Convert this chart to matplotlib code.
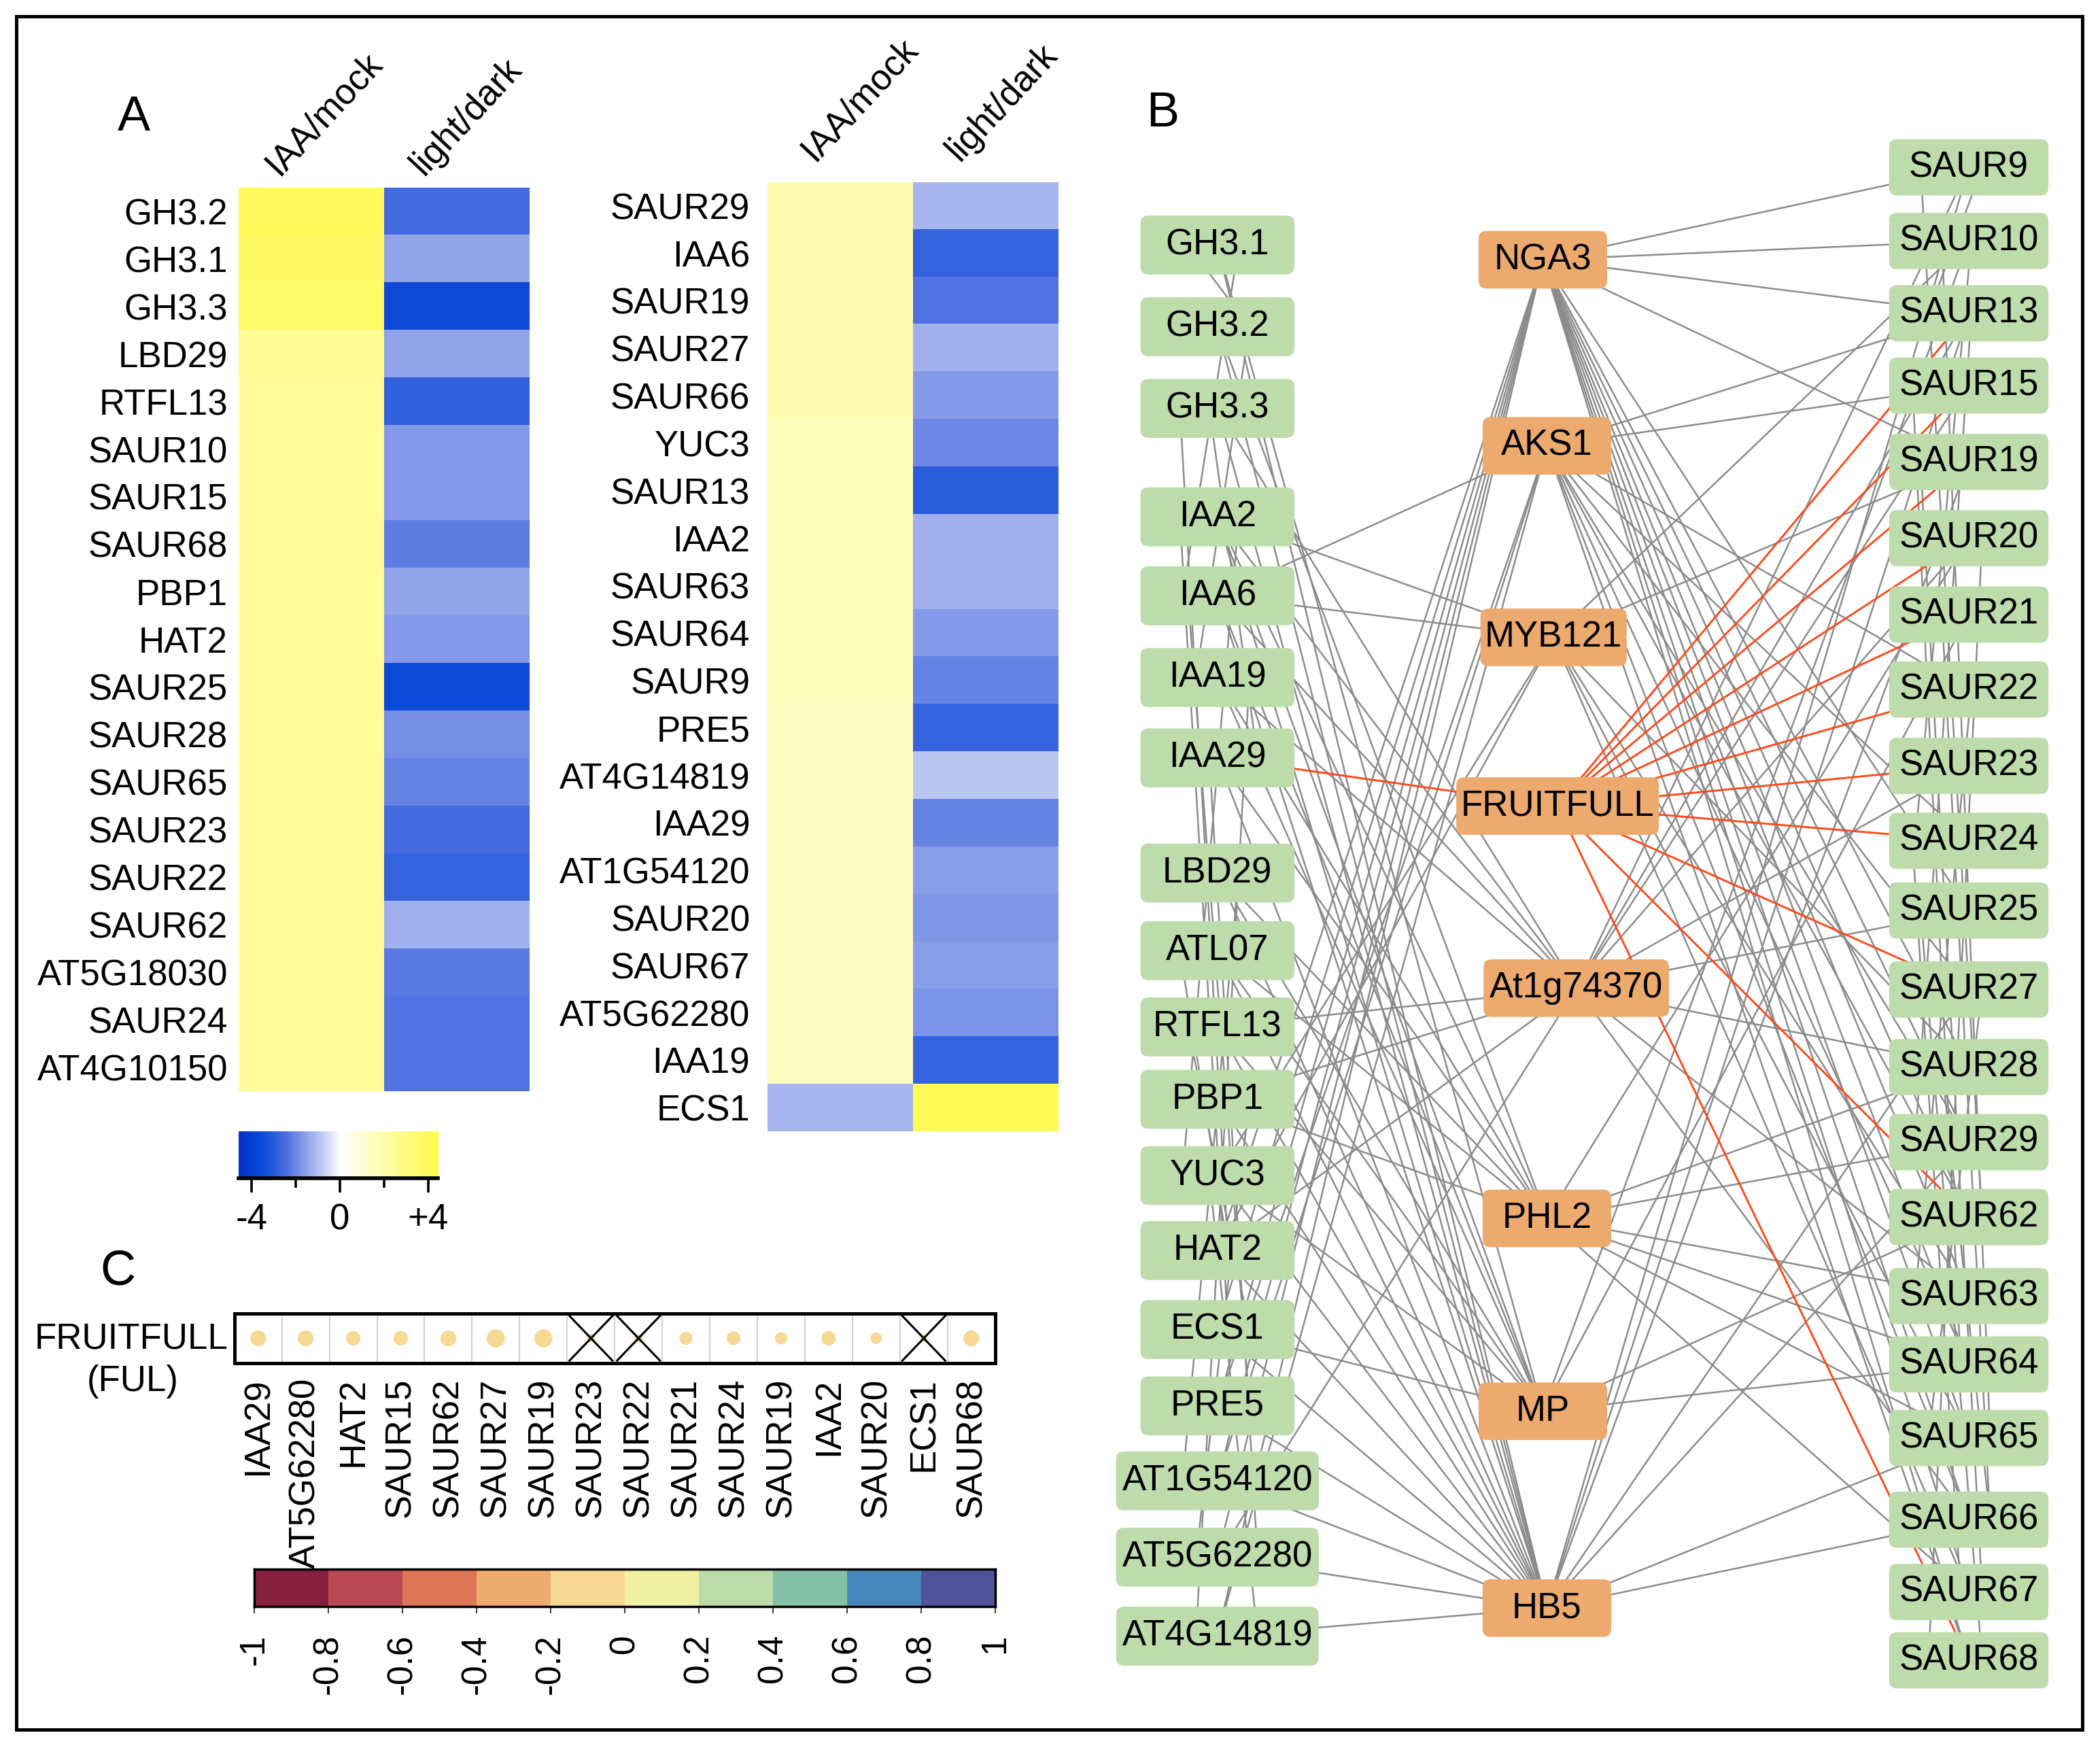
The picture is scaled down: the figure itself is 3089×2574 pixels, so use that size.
import numpy as np
import matplotlib
matplotlib.use('Agg')
import matplotlib.pyplot as plt
from matplotlib.colors import LinearSegmentedColormap, ListedColormap, BoundaryNorm
from matplotlib.patches import FancyBboxPatch, Rectangle, Ellipse
from matplotlib.collections import LineCollection
from matplotlib.textpath import TextPath
from matplotlib.font_manager import FontProperties

plt.rcParams['font.family'] = ['Liberation Sans', 'DejaVu Sans']

##############################
########### Data #############
##############################

# panel A, left heatmap (log2 fold changes)
left_genes = ['GH3.2', 'GH3.1', 'GH3.3', 'LBD29', 'RTFL13', 'SAUR10', 'SAUR15', 'SAUR68',
              'PBP1', 'HAT2', 'SAUR25', 'SAUR28', 'SAUR65', 'SAUR23', 'SAUR22', 'SAUR62',
              'AT5G18030', 'SAUR24', 'AT4G10150']
left_iaa = [3.9, 3.7, 3.6, 2.5, 2.4, 2.4, 2.4, 2.4, 2.4, 2.4, 2.4, 2.4, 2.4, 2.4, 2.4, 2.4,
            2.4, 2.4, 2.4]
left_light = [-2.6, -1.5, -3.6, -1.5, -2.9, -1.7, -1.7, -2.2, -1.5, -1.7, -3.6, -1.9, -2.1,
              -2.6, -2.8, -1.3, -2.3, -2.4, -2.4]

# panel A, right heatmap
right_genes = ['SAUR29', 'IAA6', 'SAUR19', 'SAUR27', 'SAUR66', 'YUC3', 'SAUR13', 'IAA2',
               'SAUR63', 'SAUR64', 'SAUR9', 'PRE5', 'AT4G14819', 'IAA29', 'AT1G54120',
               'SAUR20', 'SAUR67', 'AT5G62280', 'IAA19', 'ECS1']
right_iaa = [1.85, 1.85, 1.85, 1.85, 1.85, 1.6, 1.6, 1.6, 1.6, 1.6, 1.6, 1.4, 1.4, 1.4, 1.4,
             1.4, 1.4, 1.4, 1.4, -1.2]
right_light = [-1.2, -2.8, -2.4, -1.3, -1.7, -2.0, -3.0, -1.3, -1.3, -1.7, -2.1, -2.8, -0.9,
               -2.1, -1.6, -1.75, -1.6, -1.8, -2.8, 4.0]

# panel C, FRUITFULL correlations
ful_targets = ['IAA29', 'AT5G62280', 'HAT2', 'SAUR15', 'SAUR62', 'SAUR27', 'SAUR19', 'SAUR23',
               'SAUR22', 'SAUR21', 'SAUR24', 'SAUR19', 'IAA2', 'SAUR20', 'ECS1', 'SAUR68']
ful_corr = [-0.12, -0.12, -0.10, -0.10, -0.12, -0.16, -0.16, -0.03, -0.03, -0.08, -0.09,
            -0.07, -0.10, -0.06, -0.02, -0.12]
ful_signif = [True, True, True, True, True, True, True, False, False, True, True, True, True,
              True, False, True]
corr_bins = np.linspace(-1, 1, 11)
corr_colors = ['#87203F', '#B94A53', '#DD7656', '#EDAB70', '#F8D994', '#F1F1A4', '#BDDBA9',
               '#85C1A8', '#4788BC', '#4F539A']

# panel B, network
left_nodes = ['GH3.1', 'GH3.2', 'GH3.3', 'IAA2', 'IAA6', 'IAA19', 'IAA29', 'LBD29', 'ATL07',
              'RTFL13', 'PBP1', 'YUC3', 'HAT2', 'ECS1', 'PRE5', 'AT1G54120', 'AT5G62280',
              'AT4G14819']
tf_nodes = ['NGA3', 'AKS1', 'MYB121', 'FRUITFULL', 'At1g74370', 'PHL2', 'MP', 'HB5']
right_nodes = ['SAUR9', 'SAUR10', 'SAUR13', 'SAUR15', 'SAUR19', 'SAUR20', 'SAUR21', 'SAUR22',
               'SAUR23', 'SAUR24', 'SAUR25', 'SAUR27', 'SAUR28', 'SAUR29', 'SAUR62', 'SAUR63',
               'SAUR64', 'SAUR65', 'SAUR66', 'SAUR67', 'SAUR68']

hub_edges = {
    'NGA3': ['SAUR9', 'SAUR10', 'SAUR13', 'SAUR19', 'SAUR25', 'SAUR28', 'SAUR29', 'SAUR62',
             'SAUR63', 'SAUR64', 'SAUR65', 'SAUR66', 'SAUR67', 'SAUR68', 'ECS1', 'PRE5',
             'AT1G54120', 'AT5G62280', 'AT4G14819', 'HAT2'],
    'AKS1': ['SAUR13', 'SAUR15', 'SAUR22', 'SAUR24', 'SAUR27', 'SAUR29', 'SAUR62', 'SAUR64',
             'SAUR66', 'SAUR68', 'IAA6', 'PRE5', 'AT1G54120', 'AT4G14819'],
    'MYB121': ['SAUR10', 'SAUR19', 'SAUR28', 'SAUR63', 'SAUR65', 'SAUR67', 'IAA6', 'IAA2',
               'YUC3', 'HAT2'],
    'At1g74370': ['SAUR9', 'SAUR13', 'SAUR15', 'SAUR20', 'SAUR23', 'SAUR25', 'SAUR28', 'SAUR63',
                  'SAUR66', 'RTFL13', 'IAA2', 'IAA19', 'IAA6', 'GH3.3', 'PBP1', 'HAT2',
                  'AT5G62280'],
    'PHL2': ['SAUR20', 'SAUR28', 'SAUR29', 'SAUR63', 'SAUR64', 'SAUR65', 'SAUR67', 'PBP1',
             'IAA2', 'IAA19', 'IAA29', 'LBD29', 'ATL07', 'GH3.2'],
    'MP': ['SAUR10', 'SAUR21', 'SAUR62', 'SAUR64', 'ECS1', 'IAA2', 'IAA6', 'IAA19', 'LBD29',
           'ATL07', 'RTFL13', 'YUC3', 'GH3.1'],
    'HB5': ['SAUR9', 'SAUR13', 'SAUR19', 'SAUR27', 'SAUR29', 'SAUR65', 'SAUR66', 'GH3.1',
            'GH3.2', 'GH3.3', 'IAA2', 'IAA6', 'IAA29', 'LBD29', 'ATL07', 'RTFL13', 'PBP1',
            'YUC3', 'HAT2', 'ECS1', 'PRE5', 'AT1G54120', 'AT5G62280', 'AT4G14819'],
}
ful_edges = ['IAA29', 'SAUR13', 'SAUR15', 'SAUR19', 'SAUR20', 'SAUR21', 'SAUR22', 'SAUR23',
             'SAUR24', 'SAUR27', 'SAUR62', 'SAUR68']
left_pairs = [('GH3.1', 'GH3.2'), ('GH3.2', 'IAA19'), ('GH3.3', 'IAA29'), ('GH3.1', 'IAA6'),
              ('IAA2', 'ECS1'), ('IAA6', 'PRE5'), ('IAA19', 'AT4G14819'), ('IAA29', 'AT5G62280'),
              ('LBD29', 'AT1G54120'), ('ATL07', 'HAT2'), ('RTFL13', 'ECS1'),
              ('PBP1', 'AT5G62280'), ('YUC3', 'AT4G14819'), ('IAA2', 'YUC3'), ('GH3.3', 'HAT2')]
right_pairs = [('SAUR9', 'SAUR62'), ('SAUR9', 'SAUR13'), ('SAUR10', 'SAUR65'),
               ('SAUR13', 'SAUR29'), ('SAUR15', 'SAUR64'), ('SAUR19', 'SAUR67'),
               ('SAUR20', 'SAUR68'), ('SAUR21', 'SAUR66'), ('SAUR22', 'SAUR63'),
               ('SAUR24', 'SAUR67'), ('SAUR25', 'SAUR68'), ('SAUR27', 'SAUR65'),
               ('SAUR28', 'SAUR66'), ('SAUR10', 'SAUR24')]

##############################
########## Layout ############
##############################
W, H = 1568, 1307   # working canvas units (scaled to the 3089x2574 output)
FS = 38
PX2PT = 1.97 * 72 / 100

left_x = 909
left_y = [183, 244, 305, 386, 445, 506, 566, 652, 710, 767, 821, 878, 934, 993, 1050, 1106,
          1163, 1222]
tf_x = [1152, 1155, 1160, 1163, 1177, 1155, 1152, 1155]
tf_y = [194, 333, 476, 602, 738, 910, 1054, 1201]
right_x = 1470
right_y = [125, 180, 234, 288, 345, 402, 459, 515, 572, 628, 680, 739, 797, 853, 909, 968,
           1019, 1074, 1135, 1189, 1240]

expr_lo, expr_hi = -4.6, 4.45
expr_nodes = [(-4.6, '#0630CC'), (-3.5, '#0C4CD8'), (-2.5, '#4A6EE0'), (-1.5, '#92A5EA'),
              (-0.7, '#C9D2F5'), (0.0, '#FFFFFF'), (4.45, '#FFFA45')]
expr_cmap = LinearSegmentedColormap.from_list(
    'expr', [((v - expr_lo) / (expr_hi - expr_lo), c) for v, c in expr_nodes])

fig = plt.figure(figsize=(30.89, 25.74), dpi=100)


def add_ax(x0, y0, x1, y1):
    return fig.add_axes([x0 / W, 1 - y1 / H, (x1 - x0) / W, (y1 - y0) / H])


ov = fig.add_axes([0, 0, 1, 1])
ov.set_xlim(0, W)
ov.set_ylim(H, 0)
ov.axis('off')

##############################
####### Panel A heatmaps #####
##############################
def heatmap(box, genes, iaa, light, pad, hdr_dx, hdr_dy):
    ax = add_ax(*box)
    mat = np.column_stack([iaa, light])
    n = len(genes)
    ax.imshow(mat, cmap=expr_cmap, vmin=expr_lo, vmax=expr_hi, aspect='auto',
              interpolation='nearest', extent=(0, 2, n, 0))
    ax.set_xlim(0, 2)
    ax.set_ylim(n, 0)
    ax.set_yticks(np.arange(n) + 0.5, genes, fontsize=FS)
    ax.tick_params(axis='y', length=0, pad=pad * PX2PT)
    ax.set_xticks([])
    for s in ax.spines.values():
        s.set_visible(False)
    for j, name in enumerate(['IAA/mock', 'light/dark']):
        ax.annotate(name, xy=(j, 0), xycoords='data',
                    xytext=(hdr_dx * PX2PT, hdr_dy * PX2PT), textcoords='offset points',
                    rotation=47, rotation_mode='anchor', ha='left', va='baseline',
                    fontsize=FS, annotation_clip=False)
    return ax


heatmap((178, 140, 395, 815), left_genes, left_iaa, left_light, 8, 30, 8)
heatmap((573, 136, 790, 845), right_genes, right_iaa, right_light, 13, 35, 15)

# colour key
cax = add_ax(178, 845, 327, 880)
grad = np.linspace(expr_lo, expr_hi, 400)
cax.imshow(grad[None, :], cmap=expr_cmap, vmin=expr_lo, vmax=expr_hi, aspect='auto',
           extent=(expr_lo, expr_hi, 0, 1))
cax.set_xlim(expr_lo, expr_hi)
cax.set_ylim(0, 1)
cax.set_yticks([])
cax.set_xticks([-4, 0, 4], ['-4', '0', '+4'], fontsize=FS)
cax.set_xticks([-2, 2], minor=True)
cax.tick_params(axis='x', which='major', length=15, width=2.6, pad=11)
cax.tick_params(axis='x', which='minor', length=10, width=2.6)
for k in ['top', 'left', 'right']:
    cax.spines[k].set_visible(False)
cax.spines['bottom'].set_linewidth(4)

##############################
####### Panel C ##############
##############################
corr_cmap = ListedColormap(corr_colors)
corr_norm = BoundaryNorm(corr_bins, len(corr_colors))

dax = add_ax(175, 981, 743, 1018)
nt = len(ful_targets)
dax.set_xlim(0, nt)
dax.set_ylim(0, 1)
for i in range(1, nt):
    dax.axvline(i, color='#d2d2d2', lw=1.5, zorder=1)
cell_ratio = (568 / nt) / 37.0
for i, (r, sig) in enumerate(zip(ful_corr, ful_signif)):
    rad = 0.45 * np.sqrt(abs(r))
    dax.add_patch(Ellipse((i + 0.5, 0.5), 2 * rad, 2 * rad * cell_ratio,
                          color=corr_cmap(corr_norm(r)), zorder=2))
    if not sig:
        dax.plot([i + 0.05, i + 0.95], [0.05, 0.95], color='black', lw=2.2, zorder=3)
        dax.plot([i + 0.05, i + 0.95], [0.95, 0.05], color='black', lw=2.2, zorder=3)
dax.set_xticks(np.arange(nt) + 0.5, ful_targets, rotation=90, fontsize=FS)
dax.tick_params(axis='x', length=0, pad=11 * PX2PT)
dax.set_yticks([])
for s in dax.spines.values():
    s.set_linewidth(3.6)

ov.text(170, 1000, 'FRUITFULL', ha='right', va='center', fontsize=FS)
ov.text(99, 1032, '(FUL)', ha='center', va='center', fontsize=FS)

ccax = add_ax(190, 1172, 743, 1200)
mids = (corr_bins[:-1] + corr_bins[1:]) / 2
ccax.pcolormesh(corr_bins, [0, 1], mids[None, :], cmap=corr_cmap, norm=corr_norm)
ccax.set_xlim(-1, 1)
ccax.set_ylim(0, 1)
ccax.set_yticks([])
ccax.set_xticks(corr_bins, [f'{round(v, 1):g}' for v in corr_bins], rotation=90,
                fontsize=FS - 1)
ccax.tick_params(axis='x', length=7, width=1.5, color='#444444', pad=22)
for s in ccax.spines.values():
    s.set_linewidth(2.5)

##############################
####### Panel B network ######
##############################
pos = {}
for name, y in zip(left_nodes, left_y):
    pos[name] = (left_x, y)
for name, x, y in zip(tf_nodes, tf_x, tf_y):
    pos[name] = (x, y)
for name, y in zip(right_nodes, right_y):
    pos[name] = (right_x, y)

gray_segs = []
for hub, targets in hub_edges.items():
    for t in targets:
        gray_segs.append([pos[hub], pos[t]])
offsets = [(-22, 24), (24, -16), (-6, 30), (16, -26), (-28, 8)]
for k, (a, b) in enumerate(left_pairs):
    da, db = offsets[k % len(offsets)]
    gray_segs.append([(pos[a][0] + da, pos[a][1]), (pos[b][0] + db, pos[b][1])])
for k, (a, b) in enumerate(right_pairs):
    da, db = offsets[k % len(offsets)]
    gray_segs.append([(pos[a][0] + da - 14, pos[a][1]), (pos[b][0] + db - 14, pos[b][1])])
red_segs = [[pos['FRUITFULL'], pos[t]] for t in ful_edges]

ov.add_collection(LineCollection(gray_segs, colors='#8c8c8c', linewidths=1.8, zorder=1))
ov.add_collection(LineCollection(red_segs, colors='#FF4A1C', linewidths=2.1, zorder=1.5))

fp = FontProperties(family='Liberation Sans')


def text_w(s):
    return TextPath((0, 0), s, size=FS, prop=fp).get_extents().width / PX2PT


def draw_node(name, color, minw, h, fixed=None):
    cx, cy = pos[name]
    w = fixed if fixed else max(minw, text_w(name) + 10)
    ov.add_patch(FancyBboxPatch((cx - w / 2, cy - h / 2), w, h,
                                boxstyle='round,pad=0,rounding_size=6',
                                fc=color, ec='none', zorder=3))
    ov.text(cx, cy, name, ha='center', va='center', fontsize=FS, zorder=4)


for name in left_nodes:
    draw_node(name, '#BEDCAB', 115, 44)
for name in right_nodes:
    draw_node(name, '#BEDCAB', 0, 42, fixed=119)
for name in tf_nodes:
    draw_node(name, '#EDAA6E', 96, 43)

# panel letters and frame
ov.text(100, 88, 'A', ha='center', va='center', fontsize=52)
ov.text(868, 85, 'B', ha='center', va='center', fontsize=52)
ov.text(88, 950, 'C', ha='center', va='center', fontsize=52)
ov.add_patch(Rectangle((12, 12), 1543, 1280, fill=False, ec='black', lw=3.6, zorder=5))

fig.savefig('out.png', dpi=100)
